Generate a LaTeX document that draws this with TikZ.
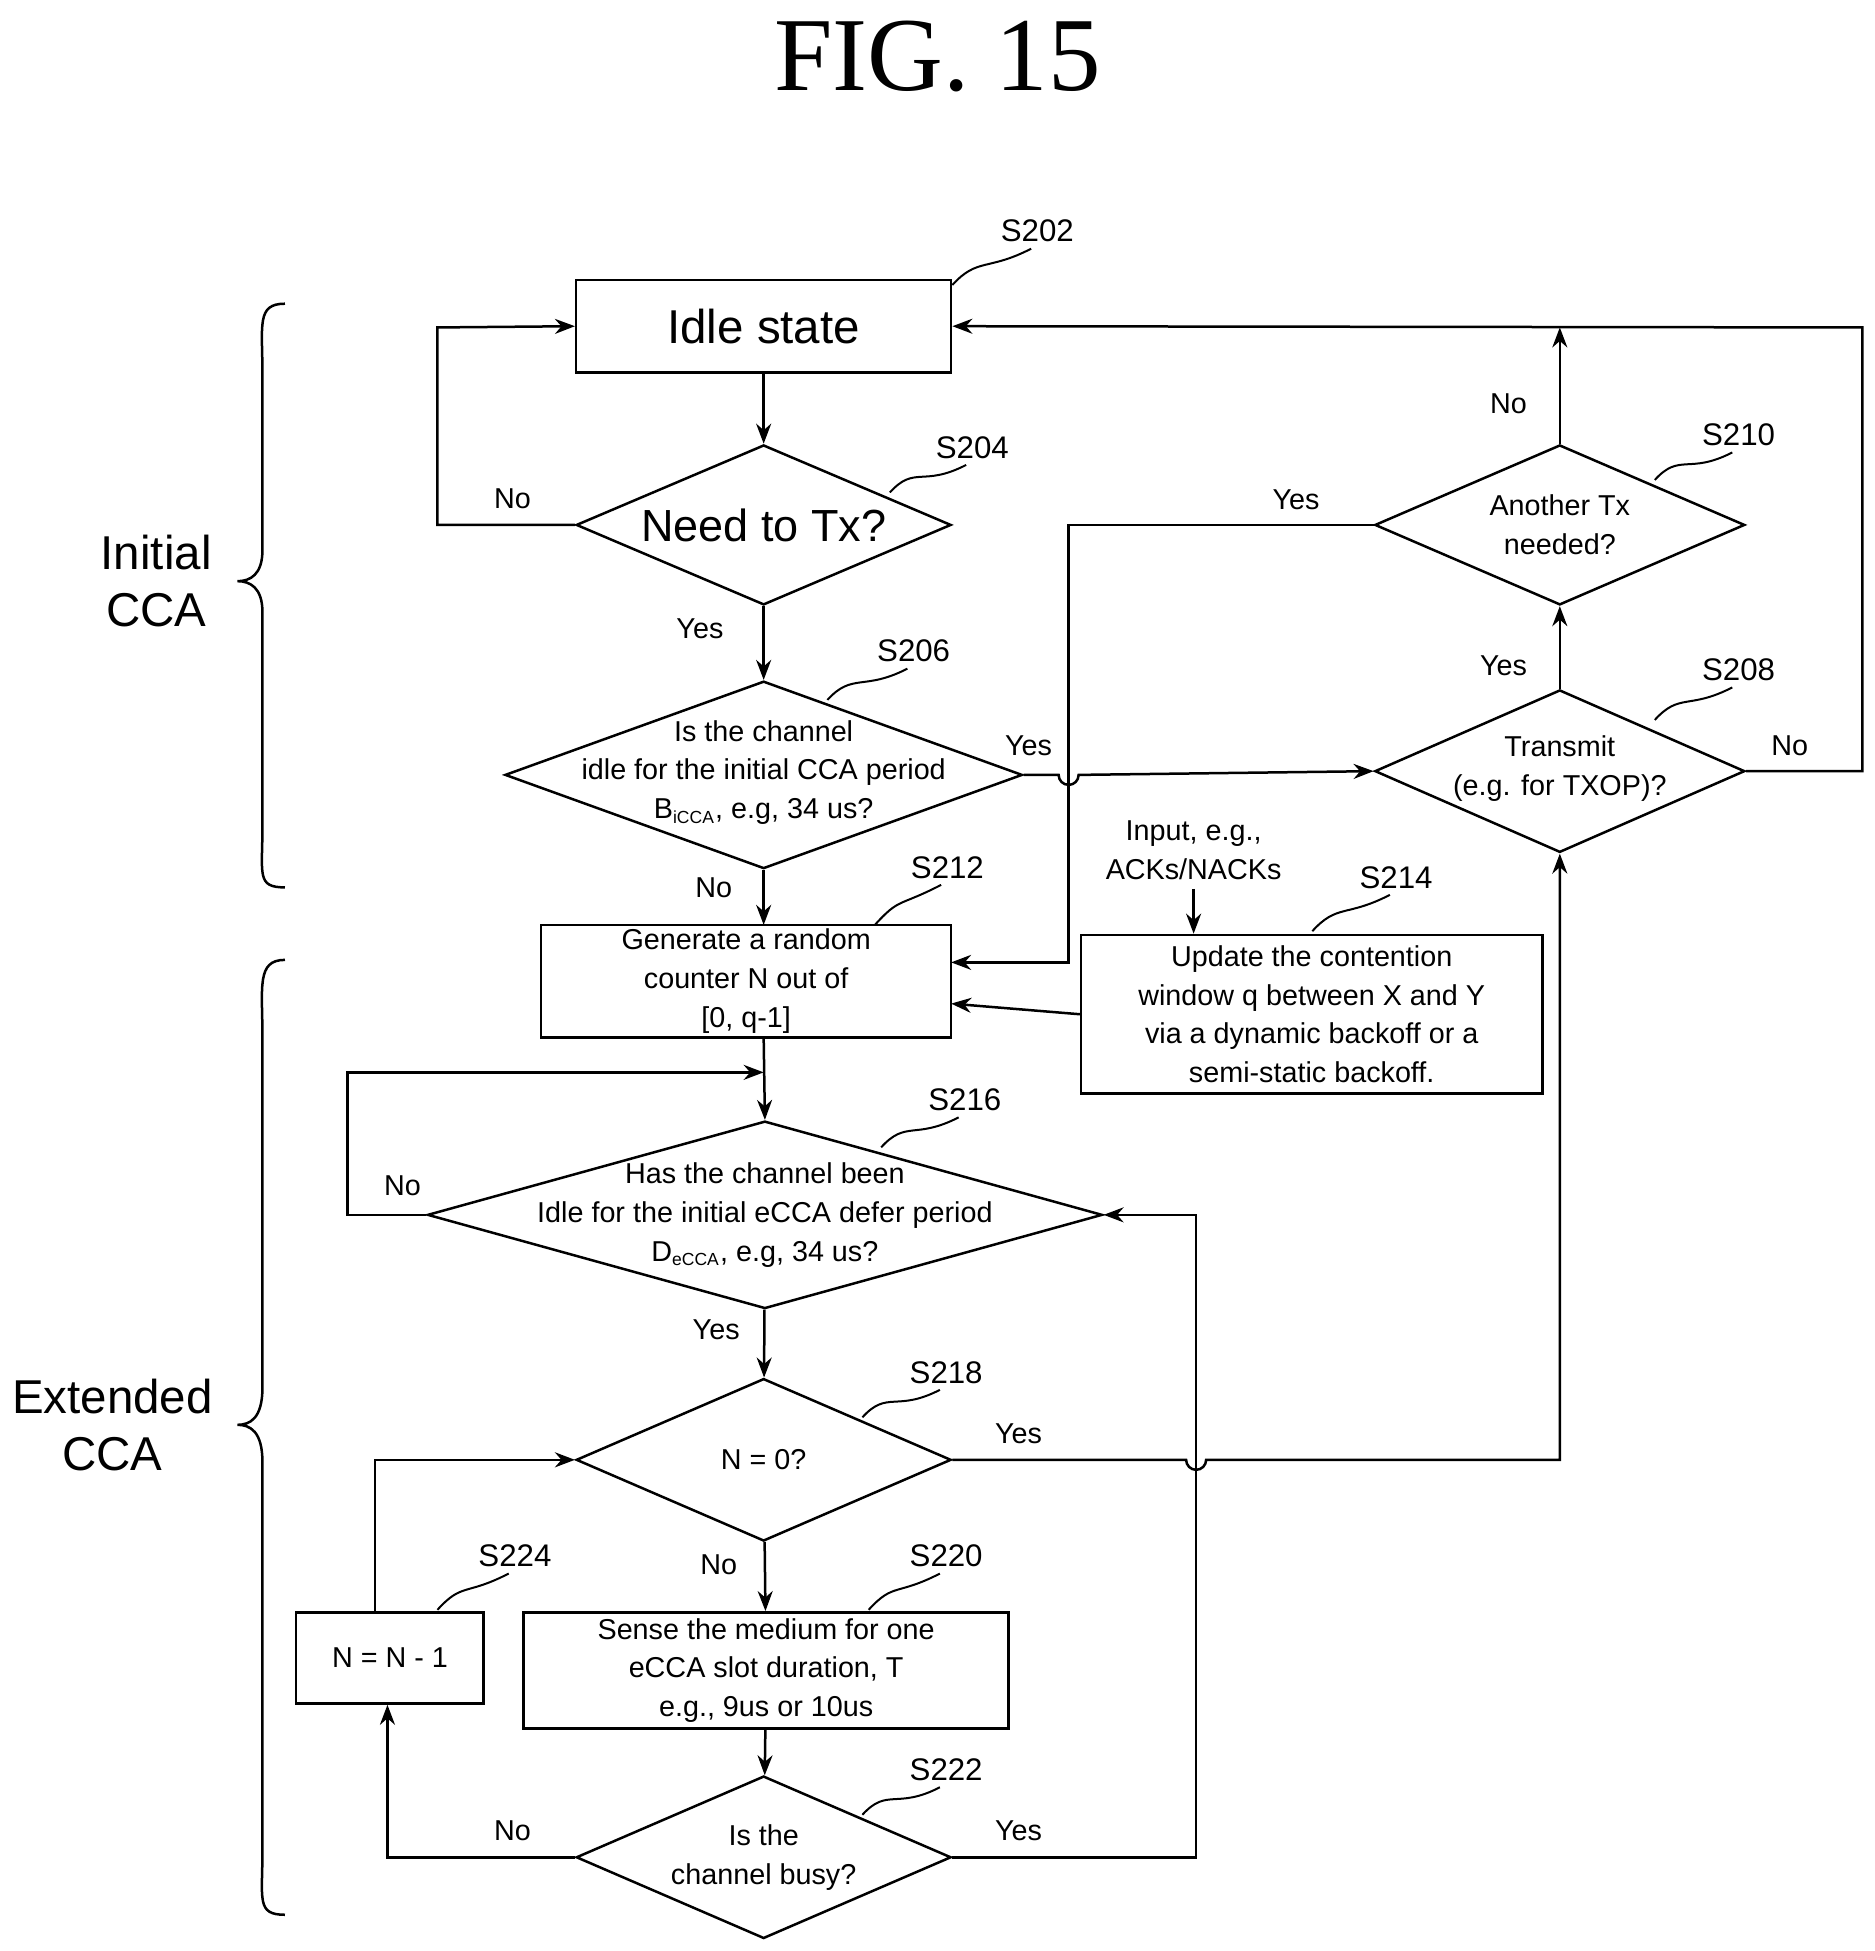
\documentclass[tikz,border=0pt]{standalone}
\usepackage{fontspec}
\setmainfont{Liberation Sans}
\newfontfamily\titlefont{Liberation Serif}
\usetikzlibrary{shapes.geometric,arrows.meta,decorations.pathreplacing}
\begin{document}
\begin{tikzpicture}[x=0.5pt,y=-0.5pt,
  line width=1pt,
  >={Stealth[length=8pt,width=6pt]},
  box/.style={draw,rectangle,inner sep=0pt,align=center,font=\fontsize{11.5}{15.5}\selectfont},
  dia/.style={draw,diamond,inner sep=0pt,minimum width=#1},
  dtxt/.style={align=center,font=\fontsize{11.5}{15.5}\selectfont},
  lab/.style={font=\fontsize{11.5}{14}\selectfont},
  sl/.style={font=\fontsize{12.5}{14}\selectfont},
  side/.style={align=center,font=\fontsize{19}{23}\selectfont},
  sq/.style={line width=0.8pt}]
\useasboundingbox (0,0) rectangle (1500,1561);
\node[font=\titlefont\fontsize{42}{46}\selectfont] (title) at (750,45) {FIG. 15};
% braces
\draw[line width=1pt] (228,243) .. controls (205,243) and (210,260) .. (210,300) -- (210,440) .. controls (210,460) and (200,465) .. (190,465) .. controls (200,465) and (210,470) .. (210,490) -- (210,660) .. controls (210,700) and (205,710) .. (228,710);
\node[side] (icca) at (125,465) {Initial\\CCA};
\draw[line width=1pt] (228,768) .. controls (205,768) and (210,790) .. (210,830) -- (210,1110) .. controls (210,1135) and (200,1140) .. (190,1140) .. controls (200,1140) and (210,1145) .. (210,1170) -- (210,1480) .. controls (210,1520) and (205,1532) .. (228,1532);
\node[side] (ecca) at (90,1140) {Extended\\CCA};
% shapes
\node[box,minimum width=150pt,minimum height=37pt,font=\fontsize{19}{22}\selectfont] (s202) at (611,261) {Idle state};
\node[dia,minimum width=150pt,minimum height=64pt] (s204) at (611,420) {};
\node[font=\fontsize{18}{22}\selectfont] (t204) at (611,420) {Need to Tx?};
\node[dia,minimum width=207pt,minimum height=75pt] (s206) at (611,620) {};
\node[dtxt] (t206) at (611,618) {Is the channel\\idle for the initial CCA period\\B\textsubscript{\scriptsize iCCA}, e.g, 34 us?};
\node[box,minimum width=164pt,minimum height=45pt] (s212) at (597,785) {Generate a random\\counter N out of\\{}[0, q-1]};
\node[box,minimum width=184.5pt,minimum height=63.5pt] (s214) at (1049.5,811.5) {Update the contention\\window q between X and Y\\via a dynamic backoff or a\\semi-static backoff.};
\node[dtxt] (inp) at (955,680) {Input, e.g.,\\ACKs/NACKs};
\node[dia,minimum width=270pt,minimum height=75pt] (s216) at (612,972) {};
\node[dtxt] (t216) at (612,972) {Has the channel been\\Idle for the initial eCCA defer period\\D\textsubscript{\scriptsize eCCA}, e.g, 34 us?};
\node[dia,minimum width=150pt,minimum height=65pt] (s218) at (611,1168) {};
\node[dtxt] (t218) at (611,1168) {N = 0?};
\node[box,minimum width=194pt,minimum height=46.5pt] (s220) at (613,1336.5) {Sense the medium for one\\eCCA slot duration, T\\e.g., 9us or 10us};
\node[box,minimum width=75pt,minimum height=36.5pt] (s224) at (312,1326.5) {N = N - 1};
\node[dia,minimum width=150pt,minimum height=65pt] (s222) at (611,1486) {};
\node[dtxt] (t222) at (611,1486) {Is the\\channel busy?};
\node[dia,minimum width=148pt,minimum height=65pt] (s208) at (1248,617) {};
\node[dtxt] (t208) at (1248,615) {Transmit\\(e.g. for TXOP)?};
\node[dia,minimum width=148pt,minimum height=64pt] (s210) at (1248,420) {};
\node[dtxt] (t210) at (1248,420) {Another Tx\\needed?};
% step labels with squiggles
\foreach \n/\x/\y/\ax/\ay in {202/830/185/762/228, 204/778/358/712/394, 206/731/521/662/560, 212/758/694/700/740, 214/1117/702/1050/745, 216/772/880/705/918, 218/757/1098/690/1134, 220/757/1245/695/1288, 224/412/1245/350/1288, 222/757/1416/690/1452, 208/1391/536/1324/576, 210/1391/348/1324/384}{
  \node[sl] (l\n) at (\x,\y) {S\n};
  \draw[sq] (\ax,\ay) .. controls (\ax+20,\ay-22) and (\x-40,\y+32) .. (\x-5,\y+14);
}
% connectors
\draw[->] (s202) -- (s204);
\draw[->] (s204.west) -- (350,420) -- (350,262) -- (s202.west);
\node[lab] at (410,399) {No};
\draw[->] (s204) -- (s206);
\node[lab] at (560,503) {Yes};
\draw[->] (s206.east) -- (847,620) arc (180:0:8) -- (s208.west);
\node[lab] at (823,597) {Yes};
\draw[->] (s206) -- (611,740);
\node[lab] at (571,710) {No};
\draw[->] (s210.west) -- (855,420) -- (855,770) -- (761,770);
\node[lab] at (1037,400) {Yes};
\coordinate (up) at (1248,262);
\draw[->] (s210.north) -- (up);
\node[lab] at (1207,323) {No};
\draw[->] (s208.east) -- (1490,617) -- (1490,262) -- (s202.east);
\node[lab] at (1432,597) {No};
\draw[->] (s208) -- (s210);
\node[lab] at (1203,533) {Yes};
\draw[->] (s214.west) -- (761,803);
\draw[->] (inp.south) -- (s214.north -| inp);
\draw[->] (611,830) -- (s216.north);
\draw[->] (s216.west) -- (278,972) -- (278,858) -- (611,858);
\node[lab] at (322,949) {No};
\draw[->] (s216) -- (s218);
\node[lab] at (573,1064) {Yes};
\draw[->] (s218.east) -- (949,1168) arc (180:0:8) -- (1248,1168) -- (s208.south);
\node[lab] at (815,1147) {Yes};
\draw[->] (s218) -- (s220);
\node[lab] at (575,1252) {No};
\draw[->] (s220) -- (s222);
\draw[->] (s222.west) -- (310,1486) -- (s224.south -| 310,0);
\node[lab] at (410,1465) {No};
\draw[->] (s222.east) -- (957,1486) -- (957,972) -- (s216.east);
\node[lab] at (815,1465) {Yes};
\draw[->] (s224.north -| 300,0) -- (300,1168) -- (s218.west);
\end{tikzpicture}
\end{document}
